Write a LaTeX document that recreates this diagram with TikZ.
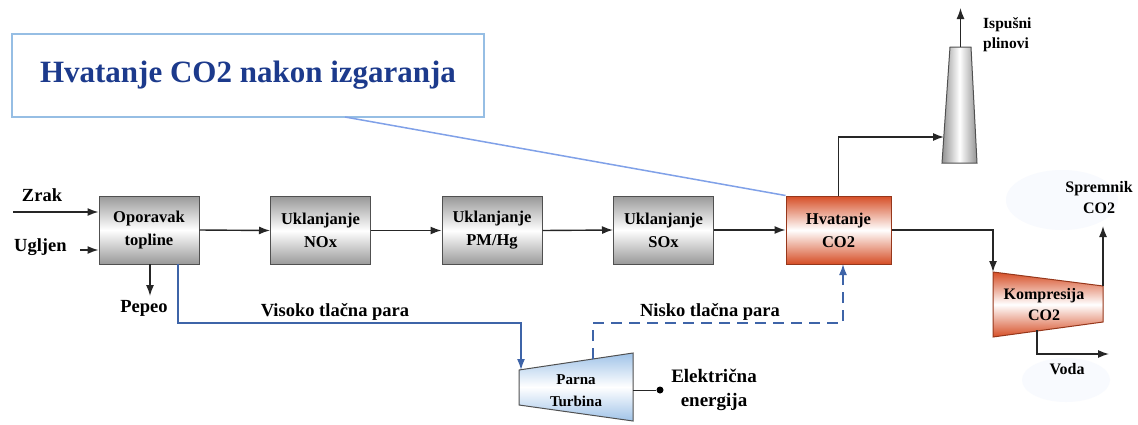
\documentclass[tikz,border=0pt]{standalone}
\usepackage{fontspec}
\setmainfont{Liberation Serif}
\usetikzlibrary{arrows.meta,shapes.geometric}
\definecolor{capred}{RGB}{214,78,38}
\definecolor{titleblue}{RGB}{28,58,140}
\definecolor{frameblue}{RGB}{150,190,228}
\definecolor{steamblue}{RGB}{62,100,168}
\definecolor{boxedge}{RGB}{80,80,80}
\definecolor{turbblue}{RGB}{160,195,232}
\definecolor{faint}{RGB}{248,250,254}
\begin{document}
\begin{tikzpicture}[x=1pt,y=-1pt,
  font=\bfseries,
  gbox/.style={draw=boxedge,line width=1pt,minimum width=100pt,minimum height=68pt,inner sep=0pt,
    align=center,font=\fontsize{16.5}{23}\selectfont\bfseries,
    top color=gray!80,bottom color=gray!80,middle color=white},
  rbox/.style={gbox,draw=capred!70!black,top color=capred,bottom color=capred,middle color=white,minimum width=105pt},
  flow/.style={line width=1.4pt,draw=black!85,-{Latex[length=11pt,width=8pt]}},
  plain/.style={line width=1.3pt,draw=black!85},
  steam/.style={line width=1.6pt,draw=steamblue,-{Latex[length=11pt,width=8pt]}},
  lbl/.style={font=\fontsize{18.5}{22}\selectfont\bfseries,inner sep=0pt},
  slbl/.style={font=\fontsize{16}{21}\selectfont\bfseries,inner sep=0pt,align=center},
]
\useasboundingbox (0,0) rectangle (1138,424);
\fill[white] (0,0) rectangle (1138,424);

% faint backgrounds
\fill[faint] (1062,200) ellipse (56pt and 30pt);
\fill[faint] (1066,380) ellipse (44pt and 22pt);

% title
\node[draw=frameblue,line width=1.6pt,minimum width=472pt,minimum height=83pt,inner sep=0pt,
  font=\fontsize{31}{36}\selectfont\bfseries,text=titleblue] (title) at (248,75.5) {Hvatanje CO2 nakon izgaranja};
\coordinate (callA) at (345,117);

% main boxes
\node[gbox] (b1) at (149,230) {Oporavak\\topline};
\node[gbox] (b2) at (320.5,230.5) {Uklanjanje\\NOx};
\node[gbox] (b3) at (492,230.5) {Uklanjanje\\PM/Hg};
\node[gbox] (b4) at (663.5,230) {Uklanjanje\\SOx};
\node[rbox] (b5) at (838.5,230) {Hvatanje\\CO2};

\draw[line width=1.5pt,draw=frameblue!85!blue] (callA) -- (b5.north west);

% chimney
\coordinate (chBL) at (942,163);
\coordinate (chBR) at (977,163);
\coordinate (chTR) at (971,47);
\coordinate (chTL) at (950,47);
\shade[left color=gray!85,right color=gray!85,middle color=white,draw=boxedge,line width=1pt]
  (chBL) -- (chBR) -- (chTR) -- (chTL) -- cycle;
\coordinate (chTop) at (960.5,47);
\coordinate (chOut) at (960.5,8);
\coordinate (chIn) at (944,137);
\node[anchor=west,font=\fontsize{15.5}{20}\selectfont\bfseries,align=left,inner sep=0pt] (exh) at (983,35) {Ispušni\\plinovi};

% compressor
\coordinate (kTL) at (993,272);
\coordinate (kTR) at (1103,286);
\coordinate (kBR) at (1103,322);
\coordinate (kBL) at (993,337);
\shade[top color=capred,bottom color=capred,middle color=white,draw=capred!70!black,line width=1pt]
  (kTL) -- (kTR) -- (kBR) -- (kBL) -- cycle;
\node[slbl] (komp) at (1044,305) {Kompresija\\CO2};
\node[slbl] (sprem) at (1099,198) {Spremnik\\CO2};
\node[slbl] (voda) at (1067,369) {Voda};
\coordinate (kOut) at (1103,286);
\coordinate (sprIn) at (1103,226);
\coordinate (kBot) at (1037,330);
\coordinate (vodaEnd) at (1109,354);

% turbine
\coordinate (tTL) at (519,370);
\coordinate (tTR) at (633,353);
\coordinate (tBR) at (633,421);
\coordinate (tBL) at (519,405);
\shade[top color=turbblue,bottom color=turbblue,middle color=white,draw=boxedge,line width=1pt]
  (tTL) -- (tTR) -- (tBR) -- (tBL) -- cycle;
\node[slbl,font=\fontsize{15}{22}\selectfont\bfseries] (turb) at (576,391) {Parna\\Turbina};
\coordinate (tIn) at (521,370);
\coordinate (tOut) at (593,359);
\coordinate (tE) at (633,390);
\node[circle,fill=black,inner sep=0pt,minimum size=7pt] (dot) at (660,390) {};
\node[lbl,align=center,font=\fontsize{19}{24}\selectfont\bfseries] (elec) at (714,390) {Električna\\energija};

% inputs
\node[lbl] (zrak) at (42,195) {Zrak};
\coordinate (zrakS) at (13,212);
\node[lbl,anchor=west] (ugl) at (14,247) {Ugljen};
\coordinate (uglS) at (80,250);
\node[lbl] (pepeo) at (144,308) {Pepeo};
\coordinate (pepS) at (150,264);
\coordinate (pepE) at (150,296);

\draw[flow] (zrakS) -- (zrakS -| b1.west);
\draw[flow] (uglS) -- (uglS -| b1.west);
\draw[flow] (pepS) -- (pepE);

% main chain
\draw[flow] (b1.east) -- (b2.west);
\draw[flow] (b2.east) -- (b3.west);
\draw[flow] (b3.east) -- (b4.west);
\draw[flow] (b4.east) -- (b5.west);

% to chimney
\draw[flow] (b5.north) -- (b5.north |- chIn) -- (chIn);
\draw[flow] (chTop) -- (chOut);

% to compressor
\draw[flow] (b5.east) -- (kTL |- b5.east) -- (kTL);
\draw[flow] (kOut) -- (sprIn);
\draw[flow] (kBot) -- (kBot |- vodaEnd) -- (vodaEnd);

% steam
\coordinate (hpS) at (178,264);
\draw[steam] (hpS) -- (178,323) -- (tIn |- 0,323) -- (tIn);
\node[lbl] (hp) at (335,312) {Visoko tlačna para};
\draw[steam,dash pattern=on 11pt off 7pt] (tOut) -- (tOut |- 0,323) -- (843,323) -- (843,264);
\node[lbl] (lp) at (710,312) {Nisko tlačna para};

% electricity
\draw[plain,line width=1pt] (tE) -- (dot);
\end{tikzpicture}
\end{document}
